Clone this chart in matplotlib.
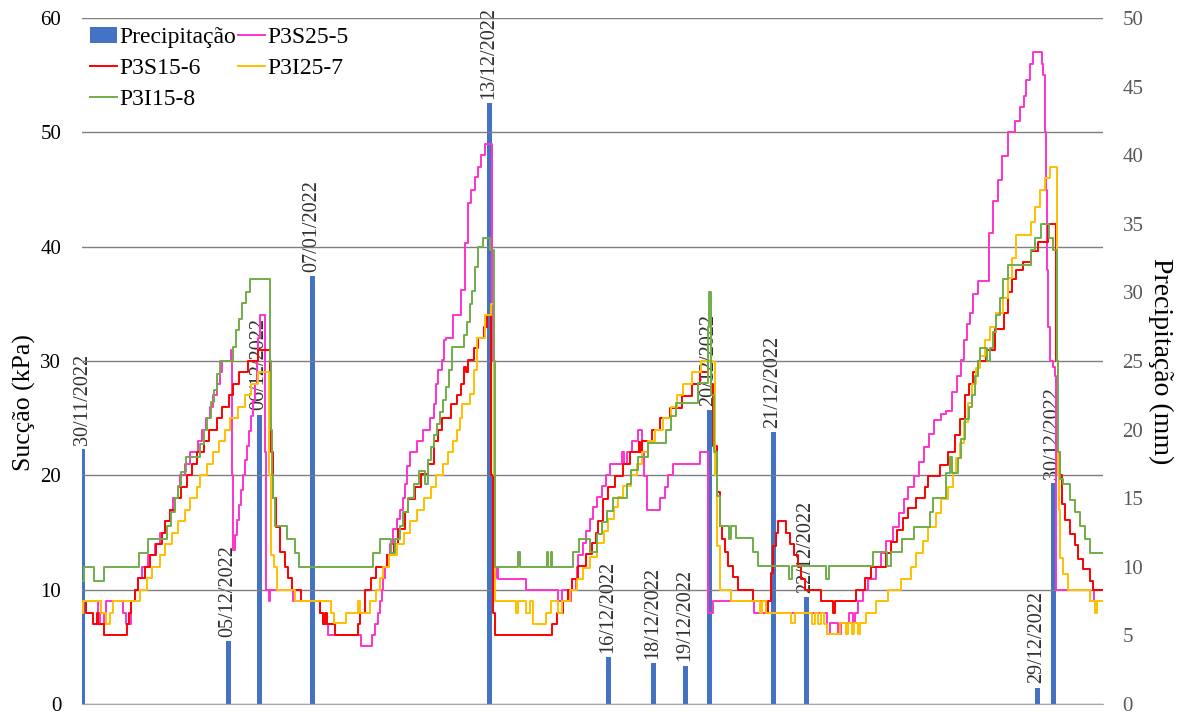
import matplotlib
matplotlib.use("Agg")
import matplotlib.pyplot as plt
from matplotlib.patches import Patch
from matplotlib.lines import Line2D

# Precipitation events: position along the record, depth (mm) and date label
t_chuva = [0, 146, 177, 230, 407, 526, 571, 603, 627, 691, 724, 955, 971]
chuva_mm = [18.6, 4.6, 21.1, 31.2, 43.8, 3.4, 3.0, 2.8, 21.4, 19.8, 7.8, 1.2, 16.1]
datas_chuva = ["30/11/2022", "05/12/2022", "06/12/2022", "07/01/2022", "13/12/2022",
               "16/12/2022", "18/12/2022", "19/12/2022", "20/12/2022", "21/12/2022",
               "22/12/2022", "29/12/2022", "30/12/2022"]

# Suction readings (record position, kPa); each value holds until the next reading
p3s25_5 = [(0, 9), (16, 8), (18, 7), (22, 8), (24, 9), (41, 8), (44, 7), (49, 9), (53, 10), (56, 11),
           (60, 12), (66, 13), (73, 14), (78, 15), (83, 16), (88, 17), (91, 18), (96, 19), (98, 20),
           (103, 21), (108, 22), (116, 23), (120, 24), (124, 25), (128, 26), (131, 27), (135, 28),
           (138, 29), (140, 30), (149, 31), (150, 20), (151, 13.5), (153, 14.8), (155, 16.1),
           (157, 17.4), (159, 18.7), (161, 20), (163, 21.3), (165, 22.6), (167, 23.9), (169, 25.2),
           (171, 26.5), (173, 28), (175, 30), (176, 32), (178, 34), (182, 34), (183, 22), (184, 10),
           (187, 9), (188, 10), (211, 9), (238, 8), (241, 7), (246, 6), (279, 5.1), (290, 6), (293, 7),
           (296, 8), (298, 9), (300, 10), (301, 11), (303, 12), (305, 13), (308, 14), (311, 15.3),
           (315, 16.2), (318, 17), (321, 18), (323, 19.2), (325, 20.8), (328, 22), (335, 23), (341, 24),
           (348, 25), (352, 26.2), (354, 28), (356, 29.2), (360, 30.1), (362, 31.8), (364, 32),
           (371, 34), (379, 36.2), (383, 40.3), (386, 43.8), (389, 45), (393, 46.1), (396, 47),
           (399, 48), (403, 49), (410, 30), (412, 11), (414, 12), (416, 10.9), (444, 10), (476, 9),
           (480, 10), (486, 9), (489, 10), (494, 10.9), (495, 12), (496, 13), (501, 14.1), (504, 15.1),
           (508, 16.2), (511, 17.2), (515, 18.1), (520, 19.1), (524, 20), (528, 21), (540, 22),
           (542, 21), (545, 22), (550, 23), (556, 24), (560, 22), (562, 19.9), (565, 17), (578, 18),
           (583, 19), (586, 20), (591, 21), (618, 22), (626, 8), (631, 9), (672, 8), (745, 6.1),
           (748, 7.1), (756, 6.1), (759, 7.1), (767, 8), (771, 7.1), (773, 8), (776, 9), (781, 10),
           (786, 10.9), (794, 12), (799, 13.2), (804, 14.3), (811, 15.5), (817, 16.7), (822, 17.9),
           (826, 19), (832, 19.9), (837, 21.2), (842, 22.5), (847, 23.6), (852, 24.8), (859, 25.4),
           (864, 25.6), (870, 27.3), (875, 28.7), (879, 30.1), (882, 31.8), (885, 33.2), (888, 34.2),
           (891, 35.9), (896, 37), (907, 41.2), (911, 44), (916, 45.8), (920, 47.9), (926, 50),
           (933, 51), (938, 52.2), (942, 53.2), (944, 54.6), (948, 56), (951, 57), (958, 57),
           (960, 56), (961, 55), (963, 50), (964, 45), (965, 38), (966, 33), (968, 30), (971, 29.5),
           (973, 28.7), (974, 10), (1008, 9), (1012, 10), (1021, 10)]

p3s15_6 = [(0, 9), (4, 8), (11, 7), (15, 8), (16, 7), (22, 6), (45, 7), (47, 8), (49, 9), (53, 10),
           (56, 11), (63, 12), (68, 13), (74, 14), (80, 15), (83, 16), (88, 17), (93, 18), (99, 19),
           (105, 20), (110, 21), (115, 22), (122, 23), (127, 24), (135, 25), (140, 26), (147, 27),
           (151, 28), (157, 29), (166, 30), (176, 31), (188, 25), (189, 22), (191, 18), (194, 15.5),
           (198, 13.3), (203, 12), (206, 11), (210, 10), (219, 9), (238, 8), (241, 7), (243, 8),
           (245, 7), (253, 6), (276, 7), (278, 8), (283, 10), (289, 11), (294, 12), (305, 13),
           (312, 14), (316, 15.3), (323, 16.8), (326, 17.9), (333, 19), (339, 20.1), (346, 21),
           (352, 23), (356, 24), (360, 25), (369, 26.2), (375, 27), (379, 28), (382, 29.5), (384, 29),
           (386, 30.1), (392, 31.1), (396, 32), (402, 33), (405, 34), (409, 20), (411, 8), (413, 6),
           (470, 7), (475, 8), (481, 9), (486, 10), (490, 10.9), (496, 12.1), (504, 13.1), (510, 14.1),
           (514, 15), (516, 16), (521, 17.9), (526, 19), (533, 19.9), (541, 21), (548, 22),
           (557, 22.9), (558, 22), (560, 23), (570, 24), (578, 25), (588, 25.9), (600, 26.9),
           (610, 28), (618, 29), (626, 30), (629, 28), (631, 22.6), (635, 18.5), (638, 15.6),
           (640, 14.4), (643, 13.3), (646, 12.1), (651, 11.1), (656, 10), (671, 9), (684, 8), (686, 9),
           (689, 11.5), (691, 13.8), (694, 15), (696, 16), (704, 15), (708, 14), (712, 13), (716, 12),
           (719, 10.9), (723, 10), (739, 9), (751, 8), (753, 9), (774, 10), (783, 11), (789, 12),
           (804, 13.2), (809, 14.2), (815, 15.2), (821, 16.3), (826, 17.1), (834, 18), (843, 19),
           (846, 19.9), (858, 20.9), (866, 22), (873, 23.5), (878, 24.9), (883, 27), (887, 28),
           (891, 29), (896, 30), (904, 31), (913, 32.8), (922, 34.2), (926, 36), (930, 37.2),
           (934, 38), (941, 38.7), (949, 39.6), (956, 40.4), (966, 42), (974, 30), (976, 22),
           (978, 20), (980, 17.5), (983, 16.1), (988, 14.9), (993, 13.9), (996, 12.7), (1001, 11.8),
           (1008, 10.8), (1011, 10), (1021, 10)]

p3i25_7 = [(0, 8), (1, 9), (19, 8), (24, 7), (28, 8), (31, 9), (58, 10), (65, 11), (70, 12), (78, 13),
           (83, 14), (90, 15), (96, 16), (103, 17), (108, 18), (115, 19), (118, 20), (125, 21),
           (131, 22), (137, 23), (143, 24), (148, 25), (156, 26), (163, 27), (169, 28), (176, 29),
           (187, 20), (189, 13), (192, 12), (195, 10), (213, 9), (249, 8), (252, 7.1), (264, 8),
           (276, 9), (278, 8), (288, 9), (294, 10), (298, 11), (301, 12), (307, 13), (315, 14),
           (322, 15), (328, 16), (335, 17), (342, 18), (349, 19), (354, 20), (361, 21), (366, 22),
           (371, 23), (375, 24), (378, 25), (380, 26.2), (388, 27.1), (392, 29.2), (395, 32),
           (403, 34), (409, 35), (412, 20), (413, 9), (434, 8), (436, 9), (444, 8), (448, 9), (451, 7),
           (464, 8), (469, 9), (476, 8), (480, 9), (488, 10), (495, 10.9), (501, 11.9), (508, 12.9),
           (515, 14.1), (522, 15.1), (526, 16.2), (532, 17.2), (536, 18.1), (541, 19.1), (549, 20),
           (555, 21), (560, 22), (566, 23), (573, 24), (581, 25), (589, 26), (595, 27), (601, 28),
           (610, 29), (619, 30), (631, 29.9), (633, 20), (635, 13.8), (638, 10), (649, 9), (678, 8),
           (680, 9), (684, 8), (709, 7.1), (713, 8), (730, 7), (733, 8), (736, 7), (739, 8), (742, 7),
           (745, 6.1), (758, 7.1), (764, 6.1), (766, 7.1), (770, 6.1), (772, 7.1), (776, 6.1),
           (778, 7.1), (784, 8), (794, 9), (806, 10), (819, 10.9), (829, 12), (834, 13.2), (841, 14.3),
           (846, 15.5), (854, 16.7), (859, 17.9), (866, 19), (871, 20.2), (874, 21.5), (878, 22.8),
           (882, 24.7), (886, 26.3), (890, 28), (894, 29.4), (898, 30.4), (903, 31.8), (908, 33),
           (914, 34.2), (921, 35.5), (926, 37.3), (930, 39), (934, 41), (949, 42.2), (953, 43.5),
           (958, 45), (963, 46), (968, 47), (975, 30), (976, 20), (977, 17), (978, 12.8), (981, 11.4),
           (986, 10), (1008, 9), (1013, 8), (1015, 9), (1021, 9)]

p3i15_8 = [(0, 10.8), (2, 12), (12, 10.8), (22, 12), (57, 13.2), (66, 14.4), (85, 15.6), (89, 16.8),
           (93, 18), (96, 19.1), (99, 20.3), (104, 21.6), (118, 22.7), (122, 24), (125, 25),
           (129, 26.4), (132, 27.5), (135, 28.9), (138, 30), (151, 31.2), (154, 32.7), (157, 33.7),
           (160, 35.1), (164, 36), (168, 37.2), (188, 30), (189, 24), (190, 20), (191, 18), (193, 15.6),
           (205, 14.4), (213, 13.2), (217, 12), (291, 13.2), (298, 14.4), (309, 13.2), (313, 14.4),
           (318, 15.6), (321, 16.8), (326, 18), (332, 19.2), (337, 20.4), (343, 19.2), (346, 21.3),
           (349, 22.5), (352, 23.5), (355, 24.5), (358, 25.5), (361, 26.6), (364, 27.7), (367, 29.2),
           (370, 31.2), (382, 32.3), (385, 33.4), (388, 35), (390, 36.1), (393, 38.2), (396, 40),
           (401, 40.8), (408, 39.7), (412, 30), (413, 12), (436, 13.3), (438, 12), (465, 13.3),
           (466, 12), (469, 13.3), (470, 12), (491, 13.3), (497, 14.4), (508, 13.3), (515, 14.9),
           (520, 15.9), (525, 16.9), (531, 18), (545, 19.2), (549, 20.5), (556, 21.6), (566, 22.8),
           (584, 24), (589, 25.2), (594, 26.3), (616, 28.1), (626, 33), (627, 36), (629, 27),
           (632, 22), (635, 18.2), (638, 15.6), (647, 14.4), (649, 15.6), (654, 14.5), (671, 13.3),
           (676, 12.1), (707, 10.9), (710, 12.1), (744, 10.9), (747, 12.1), (791, 13.3), (805, 12.1),
           (809, 13.3), (820, 14.4), (832, 15.5), (848, 16.8), (851, 18), (864, 20.2), (868, 21.6),
           (870, 20.2), (876, 21.5), (879, 23.2), (883, 24.9), (887, 26), (890, 27), (893, 28.7),
           (896, 30), (898, 31.1), (905, 30), (908, 31.1), (911, 32.5), (914, 34), (918, 35.5),
           (921, 37.2), (926, 38.4), (949, 39.7), (953, 40.8), (959, 42), (967, 40.8), (971, 39.7),
           (975, 30), (976, 22), (978, 19.7), (981, 19.2), (988, 17.8), (993, 16.8), (998, 15.6),
           (1003, 14.4), (1008, 13.2), (1021, 13.2)]

series = [("P3S25-5", p3s25_5, "#FF33CC"),
          ("P3S15-6", p3s15_6, "#FF0000"),
          ("P3I25-7", p3i25_7, "#FFC000"),
          ("P3I15-8", p3i15_8, "#70AD47")]

plt.rcParams["font.family"] = ["Liberation Serif", "DejaVu Serif"]

W, H = 1183, 717
fig = plt.figure(figsize=(W / 100, H / 100), dpi=100)
ax1 = fig.add_axes([82 / W, 13 / H, 1021 / W, 686 / H])
ax2 = ax1.twinx()
ax1.set_zorder(ax2.get_zorder() + 1)
ax1.patch.set_visible(False)

# precipitation columns on the secondary axis
bar_color = "#4472C4"
ax2.bar(t_chuva, chuva_mm, width=5, color=bar_color, zorder=2)
for t, v, d in zip(t_chuva, chuva_mm, datas_chuva):
    ax2.annotate(d, (t, v), xytext=(0, 3), textcoords="offset points", rotation=90,
                 ha="center", va="bottom", fontsize=14.5, color="#303030",
                 annotation_clip=False)

# suction curves
for name, pts, color in series:
    t, v = zip(*pts)
    ax1.plot(t, v, drawstyle="steps-post", color=color, lw=1.4, zorder=3)

ax1.set_xlim(0, 1021)
ax1.set_ylim(0, 60)
ax2.set_ylim(0, 50)
ax1.set_xticks([])
ax1.set_yticks(range(0, 61, 10))
ax2.set_yticks(range(0, 51, 5))

ax1.grid(axis="y", color="#7F7F7F", lw=1.0)
ax1.set_axisbelow(True)
for ax in (ax1, ax2):
    for s in ("top", "left", "right", "bottom"):
        ax.spines[s].set_visible(False)
ax1.spines["bottom"].set_visible(True)
ax1.spines["bottom"].set_color("#A6A6A6")

ax1.tick_params(axis="y", length=0, pad=15, labelsize=15, labelcolor="#000000")
ax2.tick_params(axis="y", length=0, pad=14, labelsize=15, labelcolor="#595959")

ax1.set_ylabel("Sucção (kPa)", fontsize=18.5)
ax1.yaxis.label.set_va("center")
ax1.yaxis.set_label_coords(-0.0568, 0.440)
ax2.set_ylabel("Precipitação (mm)", fontsize=20, rotation=270)
ax2.yaxis.label.set_va("center")
ax2.yaxis.set_label_coords(1.0568, 0.50)

handles = [Patch(facecolor=bar_color, edgecolor="none", label="Precipitação")]
line_handles = {name: Line2D([], [], color=c, lw=1.4, label=name) for name, _, c in series}
# two columns, filled column-wise: Precipitação / P3S15-6 / P3I15-8 | P3S25-5 / P3I25-7
order = [handles[0], line_handles["P3S15-6"], line_handles["P3I15-8"],
         line_handles["P3S25-5"], line_handles["P3I25-7"]]
ax1.legend(handles=order, ncol=2, loc="upper left", bbox_to_anchor=(0.0078, 0.987),
           frameon=False, fontsize=17, handlelength=1.15, handletextpad=0.08,
           columnspacing=0.1, labelspacing=0.4, borderpad=0, borderaxespad=0)

fig.savefig("out.png", dpi=100)
